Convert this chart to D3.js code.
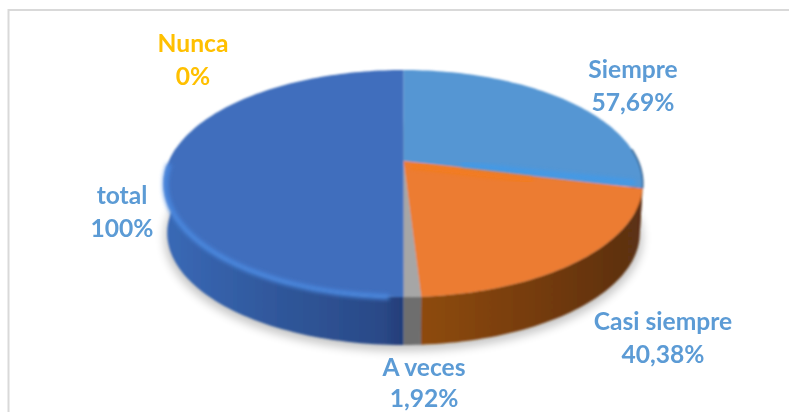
<!DOCTYPE html>
<html>
<head>
<meta charset="utf-8">
<style>
    body { margin: 0; background: #fff; }
    svg { display: block; }
    text { font-family: Lato, "Open Sans", sans-serif; font-weight: bold; font-size: 24.6px; text-anchor: middle; }
</style>
<script src="https://d3js.org/d3.v7.min.js"></script>
</head>
<body>
<svg width="789" height="412"></svg>
<script>
// chart values
var categories = ["Siempre", "Casi siempre", "A veces", "Nunca", "total"];
var percents = [57.69, 40.38, 1.92, 0, 100];
var percentLabels = ["57,69%", "40,38%", "1,92%", "0%", "100%"];

var topColors = ["#5596d3", "#ec7c30", "#a6a6a6", "#ffc000", "#3f6ebd"];
var wallColors = ["url(#wallOrange)", "url(#wallOrange)", "#6e6e6e", "#b58800", "url(#wallBlue)"];
var labelColors = ["#5b9bd5", "#5b9bd5", "#5b9bd5", "#ffc000", "#5b9bd5"];
var labelX = [633, 663, 424, 193, 122];
var labelY = [78, 330, 376, 52, 204];
var valueY = [111, 363, 407, 85, 237];

var svg = d3.select("svg");

svg.append("path")
    .attr("d", "M8.5,412V10H789")
    .attr("fill", "none")
    .attr("stroke", "#d9d9d9")
    .attr("stroke-width", 2);

var defs = svg.append("defs");
defs.append("filter").attr("id", "soft").append("feGaussianBlur").attr("stdDeviation", 0.9);
defs.append("filter").attr("id", "textSoft").append("feGaussianBlur").attr("stdDeviation", 0.35);
defs.append("filter").attr("id", "shadow")
    .attr("x", "-10%").attr("y", "-10%").attr("width", "120%").attr("height", "120%")
    .append("feGaussianBlur").attr("stdDeviation", 5);
defs.append("filter").attr("id", "glow")
    .attr("x", "-10%").attr("y", "-10%").attr("width", "120%").attr("height", "120%")
    .append("feGaussianBlur").attr("stdDeviation", 2.2);

function wallGradient(id, x1, x2, stops) {
    var g = defs.append("linearGradient").attr("id", id)
        .attr("gradientUnits", "userSpaceOnUse")
        .attr("x1", x1).attr("x2", x2).attr("y1", 0).attr("y2", 0);
    stops.forEach(function (s) {
        g.append("stop").attr("offset", s[0]).attr("stop-color", s[1]);
    });
}
wallGradient("wallBlue", 165, 404, [[0, "#3a69b6"], [0.5, "#2f5699"], [0.9, "#2b4a88"], [1, "#233c78"]]);
wallGradient("wallOrange", 420, 643, [[0, "#8e4b10"], [0.5, "#763c10"], [1, "#5a2f12"]]);

// perspective of the disc: v runs from the far edge (-1) to the near edge (1)
var cx = 403.5, yApex = 161, yFar = 70, yNear = 297, halfW = 234.5;
var c = (yFar + yNear - 2 * yApex) / (yNear - yFar) * -1;
var a = yNear * (1 + c) - yApex;

function project(angle, r, drop) {
    var u = Math.sin(angle) * r, v = -Math.cos(angle) * r;
    var w = 1 + c * v;
    return [cx + halfW * u / w, (a * v + yApex) / w + drop];
}

function rimPoints(a0, a1, r, drop) {
    var n = Math.max(2, Math.ceil((a1 - a0) * 40)), pts = [];
    for (var i = 0; i <= n; i++) {
        pts.push(project(a0 + (a1 - a0) * i / n, r, drop));
    }
    return pts;
}

var line = d3.line();
var pie = d3.pie().sort(null);
var slices = pie(percents);
var depth = 50;

// soft shadow under the disc
svg.append("path")
    .attr("d", line(rimPoints(0, Math.PI * 2, 1, depth + 4)) + "Z")
    .attr("fill", "#000")
    .attr("opacity", 0.22)
    .attr("filter", "url(#shadow)");

var disc = svg.append("g").attr("filter", "url(#soft)");

// walls first, only the near half shows
slices.forEach(function (s, i) {
    var a0 = Math.max(s.startAngle, Math.PI / 2 - 0.12);
    var a1 = Math.min(s.endAngle, Math.PI * 3 / 2 + 0.12);
    if (a1 <= a0) return;
    var upper = rimPoints(a0, a1, 1, 0);
    var lower = rimPoints(a0, a1, 0.988, depth).reverse();
    disc.append("path")
        .attr("d", line(upper.concat(lower)) + "Z")
        .attr("fill", wallColors[i]);
});

// top face
slices.forEach(function (s, i) {
    if (s.endAngle <= s.startAngle) return;
    var pts = [project(0, 0, 0)].concat(rimPoints(s.startAngle, s.endAngle, 1, 0));
    disc.append("path")
        .attr("d", line(pts) + "Z")
        .attr("fill", topColors[i]);
});

// dark edge on the right of the first slice
disc.append("path")
    .attr("d", line(rimPoints(slices[0].endAngle - 0.35, slices[0].endAngle, 1, 0)))
    .attr("fill", "none")
    .attr("stroke", "#2f5f90")
    .attr("stroke-width", 1.6);

// bright streaks along the boundary between the first two slices
var edgeAngle = slices[0].endAngle;
svg.append("path")
    .attr("d", line([project(edgeAngle, 0.25, -3), project(edgeAngle, 0.97, -5)]))
    .attr("stroke", "#3b9bf0")
    .attr("stroke-width", 5)
    .attr("opacity", 0.75)
    .attr("filter", "url(#glow)");
svg.append("path")
    .attr("d", line([project(edgeAngle, 0.03, 4), project(edgeAngle, 0.55, 4)]))
    .attr("stroke", "#f97c10")
    .attr("stroke-width", 4)
    .attr("opacity", 0.8)
    .attr("filter", "url(#glow)");

// bevel highlight on the near rim of the blue slice
var total = slices[4];
svg.append("path")
    .attr("d", line(rimPoints(total.startAngle + 0.05, total.startAngle + 1.55, 0.995, 1)))
    .attr("fill", "none")
    .attr("stroke", "#4a88e0")
    .attr("stroke-width", 5)
    .attr("filter", "url(#glow)");

var labels = svg.append("g").attr("filter", "url(#textSoft)");
categories.forEach(function (name, i) {
    labels.append("text").attr("x", labelX[i]).attr("y", labelY[i]).attr("fill", labelColors[i]).text(name);
    labels.append("text").attr("x", labelX[i]).attr("y", valueY[i]).attr("fill", labelColors[i]).text(percentLabels[i]);
});
</script>
</body>
</html>
